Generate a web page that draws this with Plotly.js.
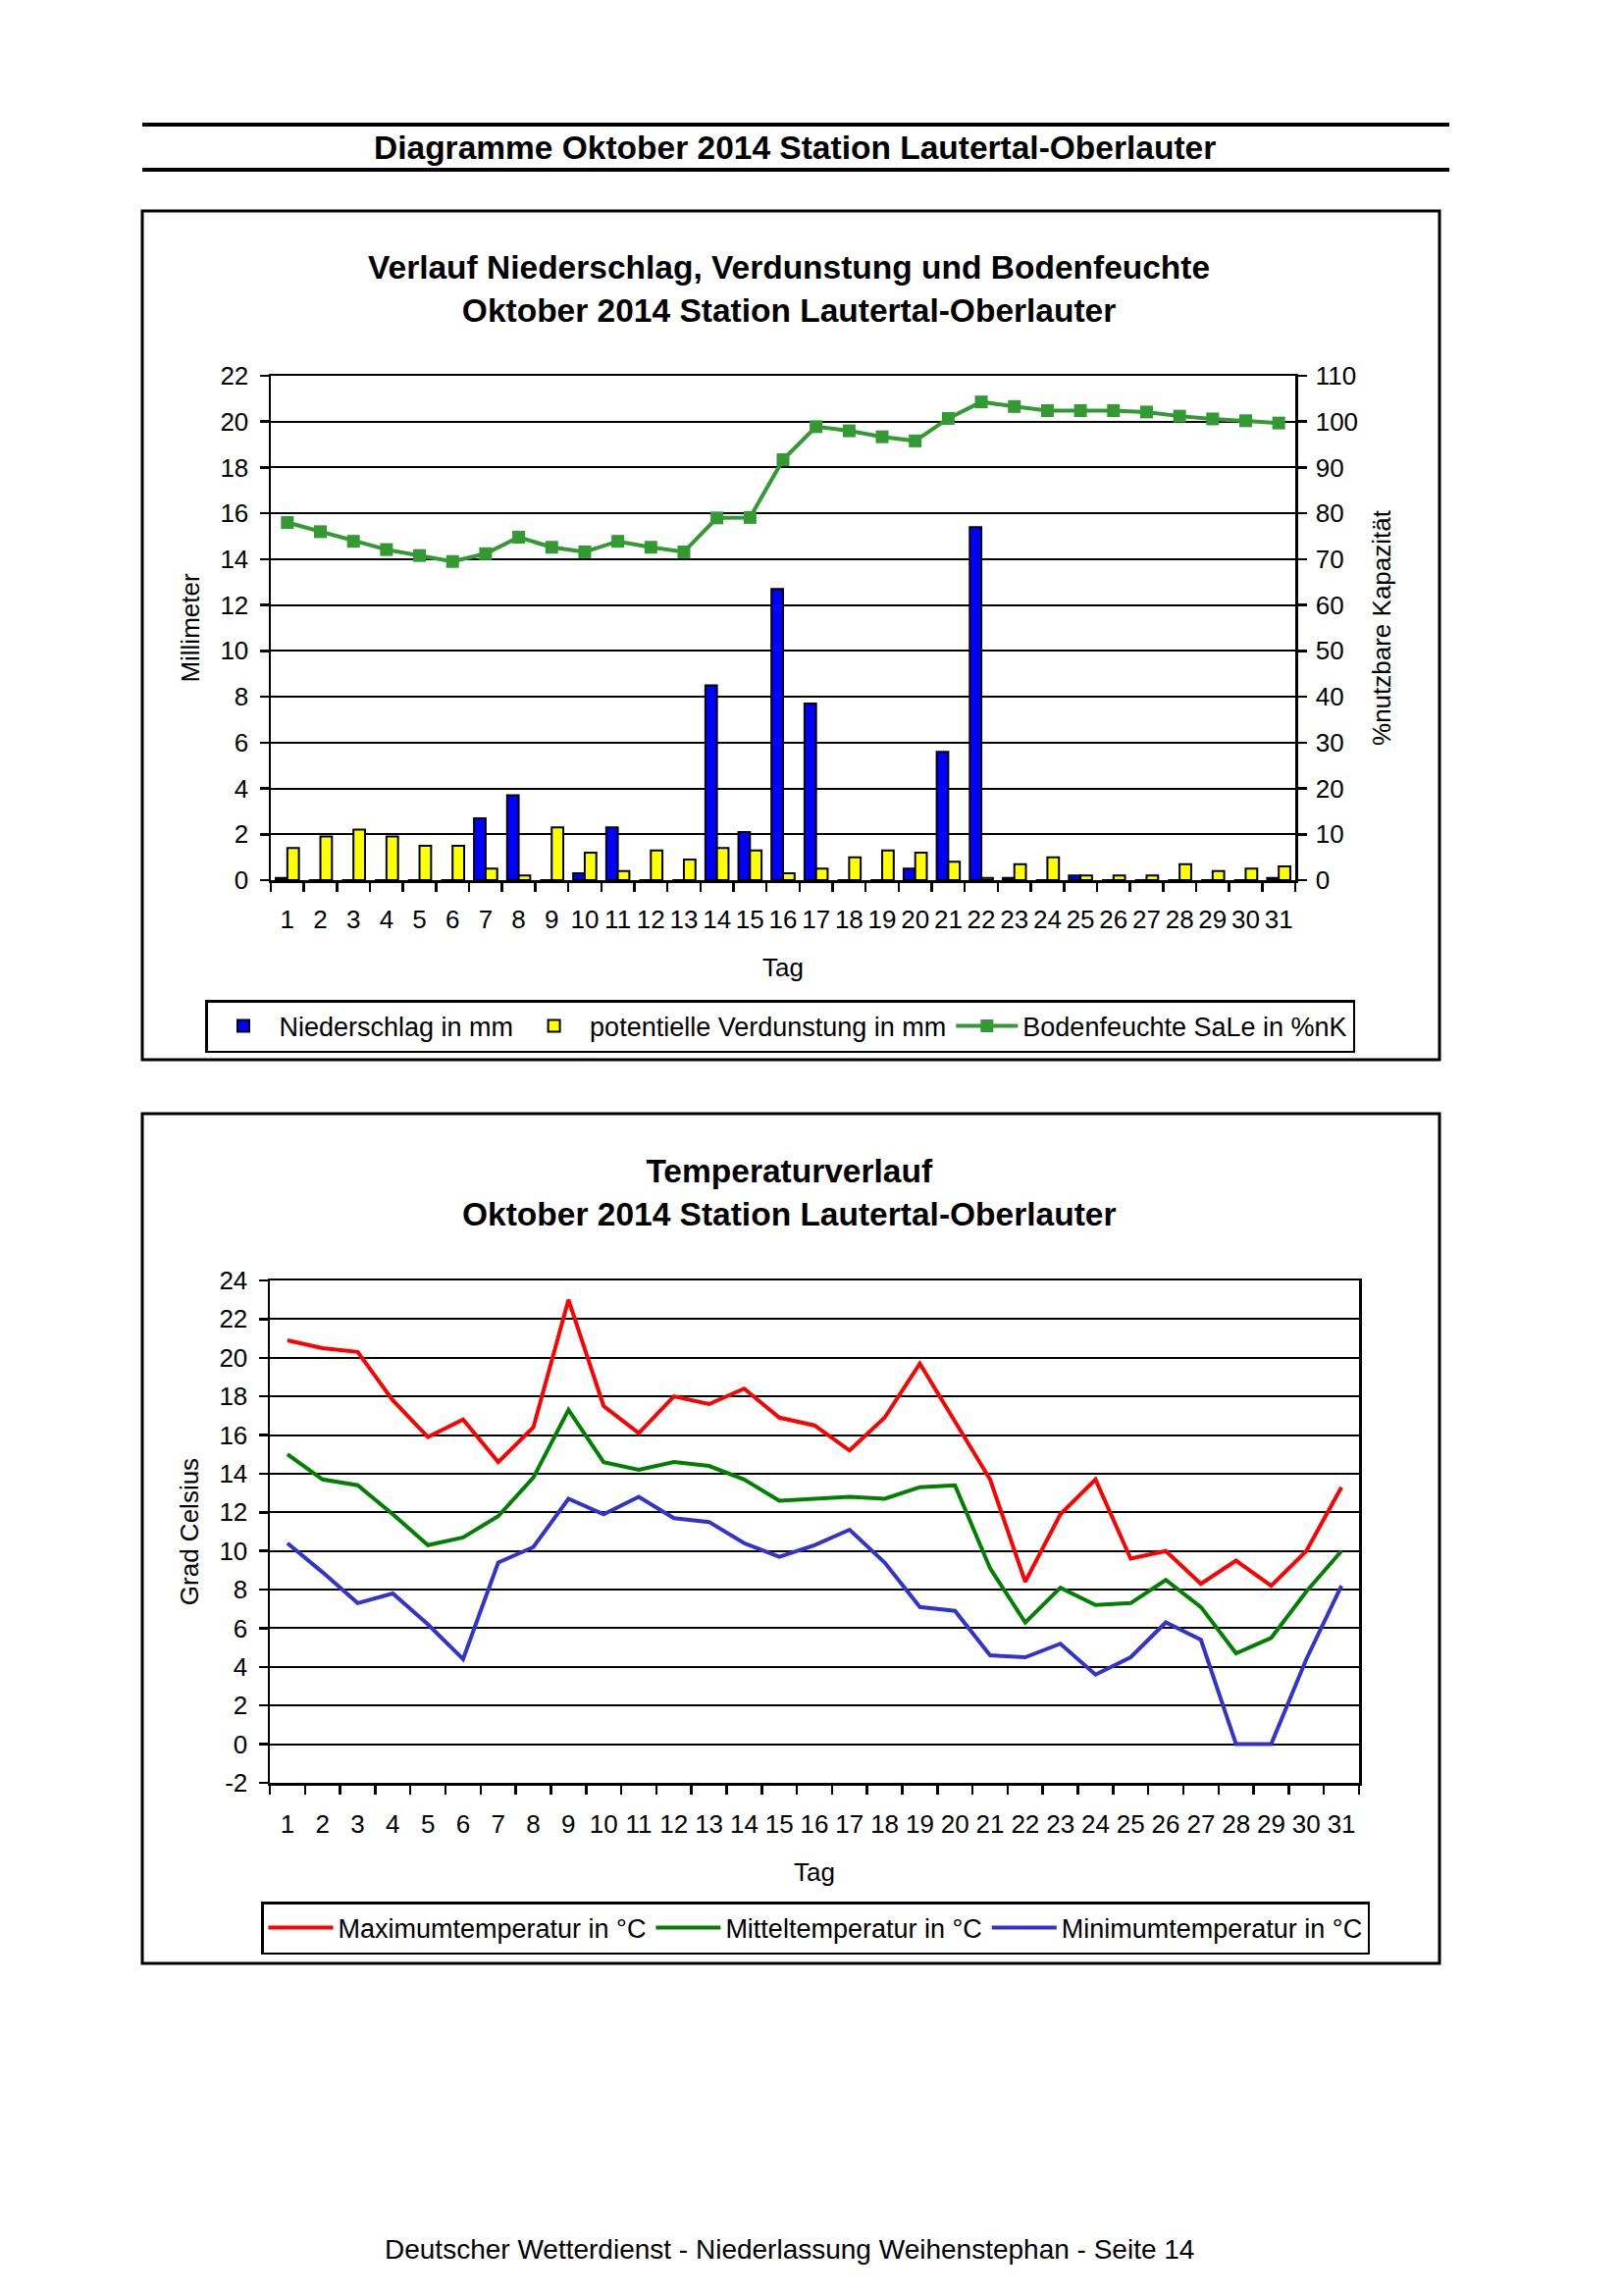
<!DOCTYPE html>
<html>
<head>
<meta charset="utf-8">
<script src="https://cdn.plot.ly/plotly-3.0.1.min.js"></script>
<style>html,body{margin:0;padding:0;background:#fff;overflow:hidden;}#chart{width:1653px;height:2340px;}</style>
</head>
<body>
<div id="chart"></div>
<script>
// ---- data ----
const days = ['1','2','3','4','5','6','7','8','9','10','11','12','13','14','15','16','17','18','19','20','21','22','23','24','25','26','27','28','29','30','31'];
const niederschlag = [0.1,0,0,0,0,0,2.7,3.7,0,0.3,2.3,0,0,8.5,2.1,12.7,7.7,0,0,0.5,5.6,15.4,0.1,0,0.2,0,0,0,0,0,0.1];
const verdunstung = [1.4,1.9,2.2,1.9,1.5,1.5,0.5,0.2,2.3,1.2,0.4,1.3,0.9,1.4,1.3,0.3,0.5,1.0,1.3,1.2,0.8,0.1,0.7,1.0,0.2,0.2,0.2,0.7,0.4,0.5,0.6];
const bodenfeuchte = [78.0,76.0,73.9,72.1,70.8,69.5,71.2,74.8,72.6,71.6,73.9,72.6,71.6,79.0,79.1,91.7,98.9,98.0,96.7,95.8,100.7,104.3,103.3,102.4,102.4,102.4,102.1,101.2,100.6,100.2,99.7];
const tmax = [20.9,20.5,20.3,17.8,15.9,16.8,14.6,16.4,23.0,17.5,16.1,18.0,17.6,18.4,16.9,16.5,15.2,16.9,19.7,16.7,13.7,8.4,11.9,13.7,9.6,10.0,8.3,9.5,8.2,10.0,13.3];
const tmean = [15.0,13.7,13.4,11.9,10.3,10.7,11.8,13.8,17.3,14.6,14.2,14.6,14.4,13.7,12.6,12.7,12.8,12.7,13.3,13.4,9.1,6.3,8.1,7.2,7.3,8.5,7.1,4.7,5.5,7.9,10.0];
const tmin = [10.4,8.9,7.3,7.8,6.2,4.4,9.4,10.2,12.7,11.9,12.8,11.7,11.5,10.4,9.7,10.3,11.1,9.4,7.1,6.9,4.6,4.5,5.2,3.6,4.5,6.3,5.4,0.0,0.0,4.4,8.2];
const tempTickVals = [-2,0,2,4,6,8,10,12,14,16,18,20,22,24];
const tempTickText = ['-2','0','2','4','6','8','10','12','14','16','18','20','22','24'];

// ---- layout helpers ----
const W = 1653, H = 2340;
const px = x => x / W;
const py = y => 1 - y / H;
const FONT = 'Liberation Sans, Arial, sans-serif';

const traces = [
  {type:'bar', x:days, y:niederschlag, name:'Niederschlag in mm', xaxis:'x', yaxis:'y',
   marker:{color:'#0000FF', line:{color:'#000000', width:2}}, legend:'legend'},
  {type:'bar', x:days, y:verdunstung, name:'potentielle Verdunstung in mm', xaxis:'x', yaxis:'y',
   marker:{color:'#FFFF00', line:{color:'#000000', width:2}}, legend:'legend'},
  {type:'scatter', mode:'lines+markers', x:days, y:bodenfeuchte, name:'Bodenfeuchte SaLe in %nK', xaxis:'x', yaxis:'y2',
   line:{color:'#339933', width:4}, marker:{symbol:'square', size:13, color:'#339933'}, legend:'legend'},
  {type:'scatter', mode:'lines', x:days, y:tmax, name:'Maximumtemperatur in °C', xaxis:'x2', yaxis:'y3',
   line:{color:'#FF0000', width:4}, legend:'legend2'},
  {type:'scatter', mode:'lines', x:days, y:tmean, name:'Mitteltemperatur in °C', xaxis:'x2', yaxis:'y3',
   line:{color:'#008000', width:4}, legend:'legend2'},
  {type:'scatter', mode:'lines', x:days, y:tmin, name:'Minimumtemperatur in °C', xaxis:'x2', yaxis:'y3',
   line:{color:'#3333CC', width:4}, legend:'legend2'}
];

const axisCommon = {
  showline:true, linecolor:'#000', linewidth:2.5,
  ticks:'outside', ticklen:9, tickwidth:2.5, tickcolor:'#000',
  tickfont:{size:26, color:'#000', family:FONT},
  zeroline:false, automargin:true
};

const layout = {
  width:W, height:H,
  margin:{l:0, r:0, t:0, b:0, pad:0, autoexpand:false},
  paper_bgcolor:'#fff', plot_bgcolor:'rgba(0,0,0,0)',
  font:{family:FONT, color:'#000', size:26},
  showlegend:true,
  barmode:'group', bargap:0.3, bargroupgap:0,
  xaxis: Object.assign({}, axisCommon, {
    domain:[px(276), px(1320)], anchor:'y', type:'category', tickson:'boundaries',
    range:[-0.5, 30.5], tickangle:0,
    mirror:true, showgrid:false, ticklabelstandoff:15,
    title:{text:'Tag', font:{size:26, family:FONT}, standoff:26}
  }),
  yaxis: Object.assign({}, axisCommon, {
    domain:[py(897), py(383)], anchor:'x', range:[0,22], dtick:2, tick0:0,
    showgrid:true, gridcolor:'#000', gridwidth:2, ticklabelstandoff:6,
    title:{text:'Millimeter', font:{size:26, family:FONT}, standoff:14}
  }),
  yaxis2: Object.assign({}, axisCommon, {
    overlaying:'y', side:'right', anchor:'x', range:[0,110], dtick:10, tick0:0,
    showgrid:false, ticklabelstandoff:4,
    title:{text:'%nutzbare Kapazität', font:{size:26, family:FONT}, standoff:16}
  }),
  xaxis2: Object.assign({}, axisCommon, {
    domain:[px(275), px(1385)], anchor:'y3', type:'category', tickson:'boundaries',
    range:[-0.5, 30.5], tickangle:0,
    mirror:true, showgrid:false, ticklabelstandoff:17,
    title:{text:'Tag', font:{size:26, family:FONT}, standoff:26}
  }),
  yaxis3: Object.assign({}, axisCommon, {
    domain:[py(1817), py(1305)], anchor:'x2', range:[-2,24],
    tickmode:'array', tickvals:tempTickVals, ticktext:tempTickText,
    mirror:true, showgrid:true, gridcolor:'#000', gridwidth:2, ticklabelstandoff:6,
    title:{text:'Grad Celsius', font:{size:26, family:FONT}, standoff:14}
  }),
  legend:{x:px(209), y:py(1019), xanchor:'left', yanchor:'top', orientation:'h', itemwidth:63,
    bgcolor:'#fff', bordercolor:'#000', borderwidth:2.5, font:{size:27, family:FONT}},
  legend2:{x:px(266), y:py(1938), xanchor:'left', yanchor:'top', orientation:'h', itemwidth:66,
    bgcolor:'#fff', bordercolor:'#000', borderwidth:2.5, font:{size:27, family:FONT}},
  shapes:[
    {type:'line', xref:'paper', yref:'paper', x0:px(145), x1:px(1477), y0:py(127), y1:py(127), line:{color:'#000', width:4}},
    {type:'line', xref:'paper', yref:'paper', x0:px(145), x1:px(1477), y0:py(173), y1:py(173), line:{color:'#000', width:4}},
    {type:'rect', xref:'paper', yref:'paper', x0:px(145), x1:px(1467), y0:py(1080), y1:py(215), line:{color:'#000', width:3}},
    {type:'rect', xref:'paper', yref:'paper', x0:px(145), x1:px(1467), y0:py(2001), y1:py(1135), line:{color:'#000', width:3}}
  ],
  annotations:[
    {xref:'paper', yref:'paper', x:px(810), y:py(151), xanchor:'center', yanchor:'middle', showarrow:false,
     text:'<b>Diagramme Oktober 2014 Station Lautertal-Oberlauter</b>', font:{size:33.5, family:FONT}},
    {xref:'paper', yref:'paper', x:px(804), y:py(294), xanchor:'center', yanchor:'middle', showarrow:false,
     text:'<b>Verlauf Niederschlag, Verdunstung und Bodenfeuchte</b><br><b>Oktober 2014 Station Lautertal-Oberlauter</b>', font:{size:33.5, family:FONT}},
    {xref:'paper', yref:'paper', x:px(804), y:py(1215), xanchor:'center', yanchor:'middle', showarrow:false,
     text:'<b>Temperaturverlauf</b><br><b>Oktober 2014 Station Lautertal-Oberlauter</b>', font:{size:33.5, family:FONT}},
    {xref:'paper', yref:'paper', x:px(804), y:py(2292), xanchor:'center', yanchor:'middle', showarrow:false,
     text:'Deutscher Wetterdienst - Niederlassung Weihenstephan - Seite 14', font:{size:28, family:FONT}}
  ]
};

Plotly.newPlot('chart', traces, layout, {staticPlot:true, displayModeBar:false});
</script>
</body>
</html>
